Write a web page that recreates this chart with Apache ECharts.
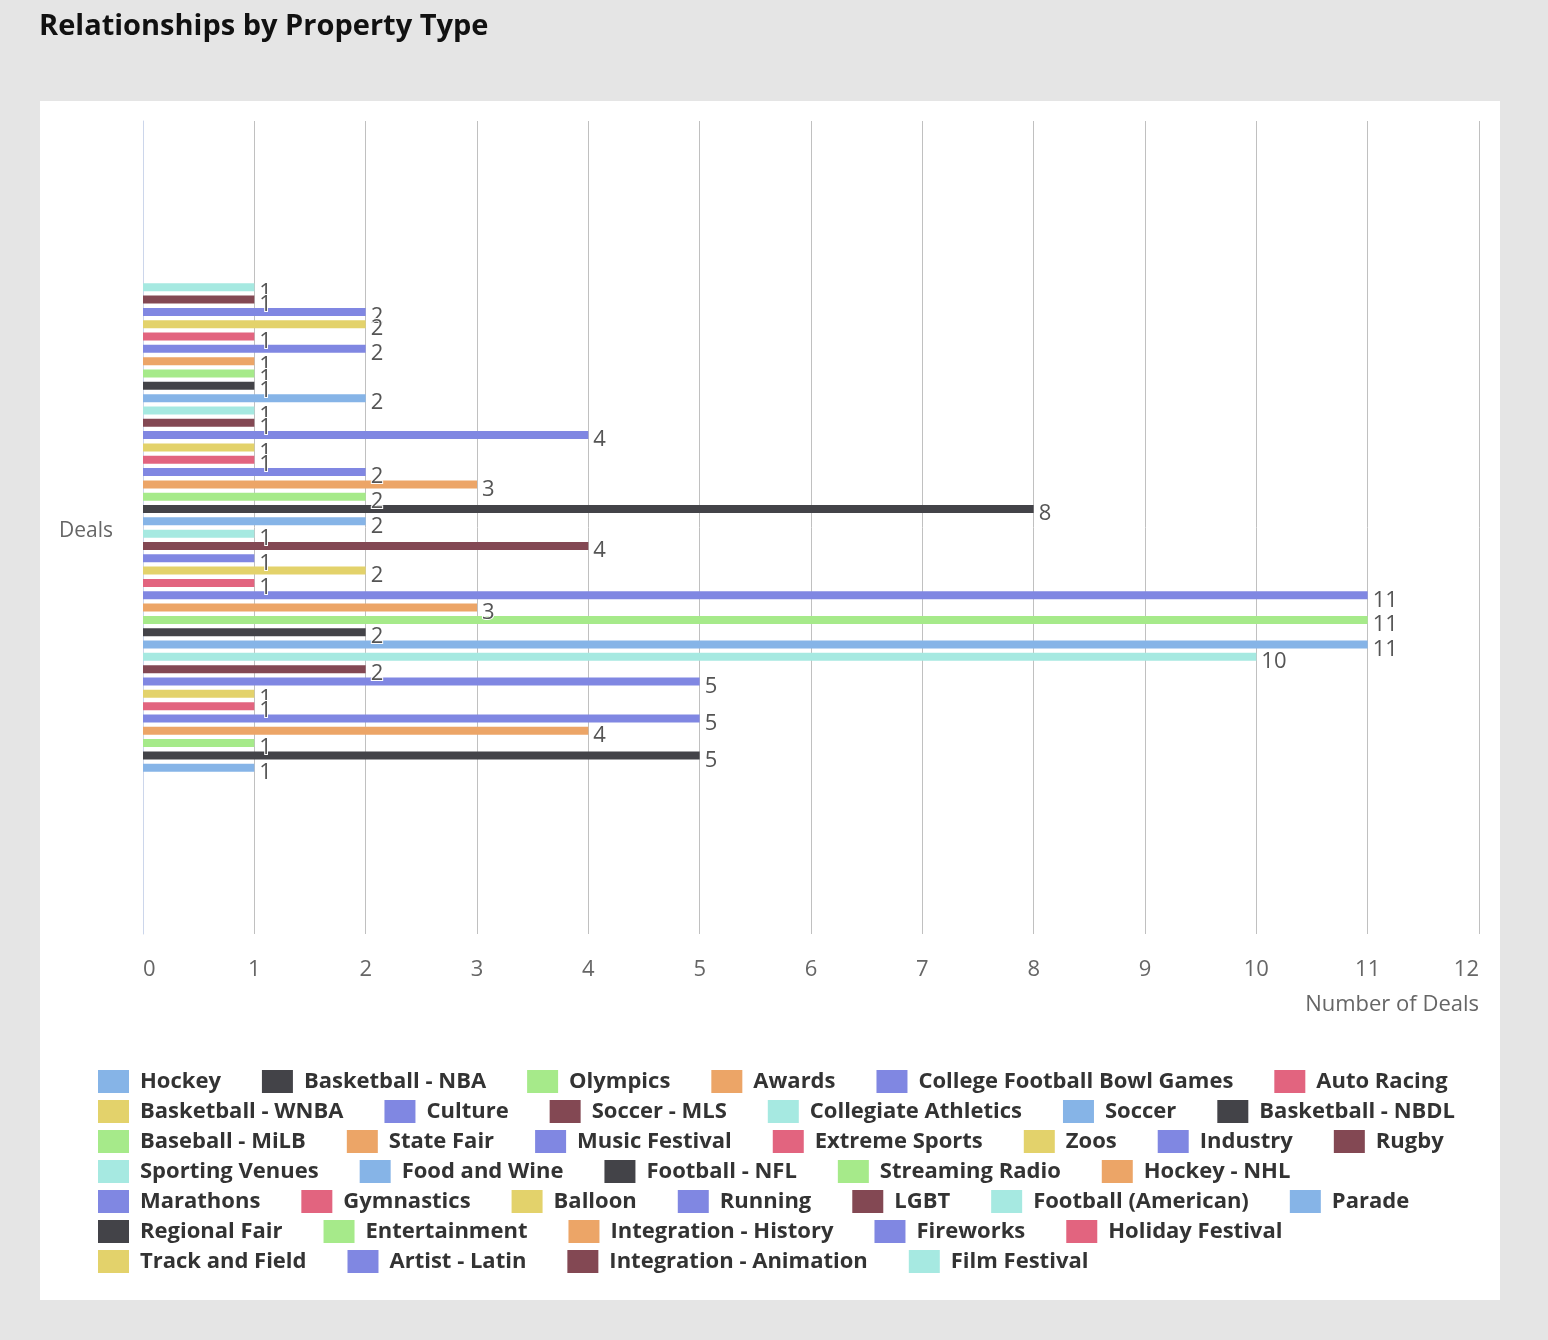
<!DOCTYPE html>
<html lang="en">
<head>
  <meta charset="UTF-8">
  <title>Relationships by Property Type</title>
  <script src="https://cdn.jsdelivr.net/npm/echarts@6/dist/echarts.min.js"></script>
  <style>
    html, body { margin: 0; padding: 0; background: #e5e5e5; }
  </style>
</head>
<body>
<div id="main" style="width: 1548px;height: 1340px"></div>
<script>
  // property types, in legend order (first one is drawn at the bottom)
  const propertyTypes = [
    'Hockey', 'Basketball - NBA', 'Olympics', 'Awards', 'College Football Bowl Games', 'Auto Racing',
    'Basketball - WNBA', 'Culture', 'Soccer - MLS', 'Collegiate Athletics', 'Soccer', 'Basketball - NBDL',
    'Baseball - MiLB', 'State Fair', 'Music Festival', 'Extreme Sports', 'Zoos', 'Industry', 'Rugby',
    'Sporting Venues', 'Food and Wine', 'Football - NFL', 'Streaming Radio', 'Hockey - NHL',
    'Marathons', 'Gymnastics', 'Balloon', 'Running', 'LGBT', 'Football (American)', 'Parade',
    'Regional Fair', 'Entertainment', 'Integration - History', 'Fireworks', 'Holiday Festival',
    'Track and Field', 'Artist - Latin', 'Integration - Animation', 'Film Festival'
  ];
  const dealCounts = [
    1, 5, 1, 4, 5, 1,
    1, 5, 2, 10, 11, 2,
    11, 3, 11, 1, 2, 1, 4,
    1, 2, 8, 2, 3,
    2, 1, 1, 4, 1, 1, 2,
    1, 1, 1, 2, 1,
    2, 2, 1, 1
  ];
  // how many legend entries sit on each legend line
  const legendLineCounts = [6, 6, 7, 5, 7, 5, 4];
  const categories = ['Deals'];
  const xTicks = [0, 12, 1];

  const palette = ['#86b4e7', '#434348', '#a6ea8a', '#eca567', '#8087e2',
                   '#e2647f', '#e3d26b', '#8087e2', '#834853', '#a6e9e1'];
  const font = 'Open Sans';

  var chart = echarts.init(document.getElementById('main'));

  var legends = [];
  var start = 0;
  legendLineCounts.forEach(function (n, row) {
    legends.push({
      data: propertyTypes.slice(start, start + n),
      left: 98,
      top: 1070 + row * 30,
      orient: 'horizontal',
      padding: 0,
      itemGap: 41,
      itemWidth: 31,
      itemHeight: 23,
      icon: 'rect',
      selectedMode: false,
      textStyle: {
        fontFamily: font,
        fontSize: 22,
        fontWeight: 'bold',
        color: '#333',
        padding: [3, 0, 0, 6]
      }
    });
    start += n;
  });

  // series are added last-first so the first type ends up at the bottom
  var series = [];
  for (var i = propertyTypes.length - 1; i >= 0; i--) {
    series.push({
      name: propertyTypes[i],
      type: 'bar',
      data: [dealCounts[i]],
      barWidth: 8,
      barGap: '54%',
      itemStyle: { color: palette[i % palette.length] },
      label: {
        show: true,
        position: 'right',
        distance: 5,
        offset: [0, 5],
        fontFamily: font,
        fontSize: 22,
        color: '#555',
        textBorderColor: '#fff',
        textBorderWidth: 2
      }
    });
  }

  var option = {
    animation: false,
    backgroundColor: '#e5e5e5',
    title: {
      text: 'Relationships by Property Type',
      left: 39,
      top: 12,
      padding: 0,
      textStyle: {
        fontFamily: font,
        fontSize: 29,
        fontWeight: 'bold',
        color: '#111'
      }
    },
    graphic: [{
      type: 'rect',
      left: 40,
      top: 101,
      z: -10,
      shape: { width: 1460, height: 1199 },
      style: { fill: '#fff' }
    }],
    legend: legends,
    grid: {
      left: 143,
      right: 69,
      top: 121,
      bottom: 406,
      containLabel: false
    },
    xAxis: {
      type: 'value',
      min: xTicks[0],
      max: xTicks[1],
      interval: xTicks[2],
      name: 'Number of Deals',
      nameLocation: 'end',
      nameGap: 0,
      nameTextStyle: {
        fontFamily: font,
        fontSize: 22,
        color: '#666',
        align: 'right',
        verticalAlign: 'top',
        padding: [60, 0, 0, 0]
      },
      axisLine: { show: false },
      axisTick: { show: false },
      axisLabel: {
        margin: 25,
        fontFamily: font,
        fontSize: 22,
        color: '#666',
        alignMinLabel: 'left',
        alignMaxLabel: 'right'
      },
      splitLine: { show: true, lineStyle: { color: '#c0c0c0', width: 1 } }
    },
    yAxis: {
      type: 'category',
      data: categories,
      axisLine: { show: true, lineStyle: { color: '#ccd6eb', width: 1 } },
      axisTick: { show: false },
      axisLabel: {
        margin: 30,
        fontFamily: font,
        fontSize: 21,
        color: '#666',
        verticalAlign: 'top',
        lineHeight: 8
      },
      splitLine: { show: false }
    },
    series: series
  };
  chart.setOption(option);
</script>
</body>
</html>
